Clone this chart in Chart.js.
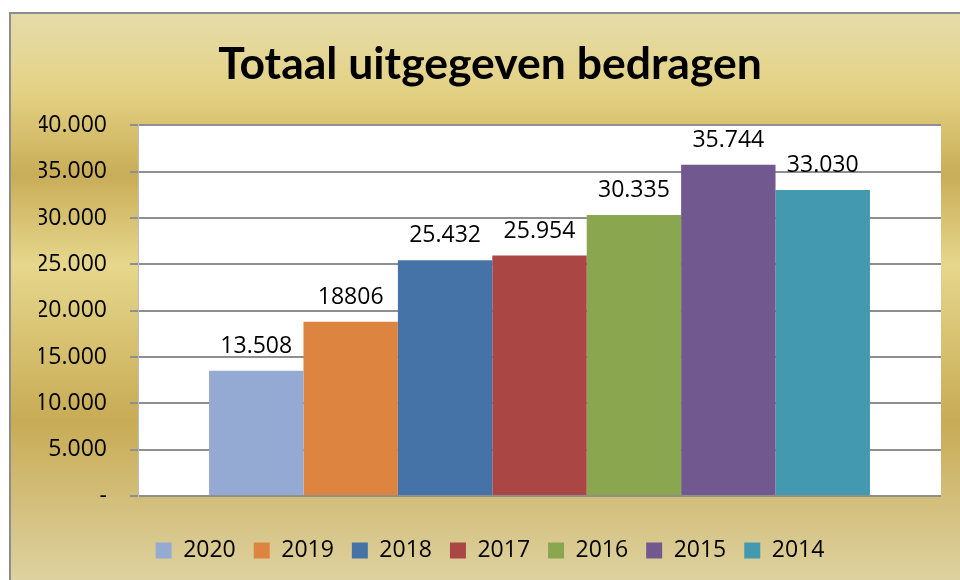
<!DOCTYPE html>
<html lang="nl">
<head>
  <meta charset="UTF-8" />
  <title>Totaal uitgegeven bedragen</title>
  <script src="https://cdn.jsdelivr.net/npm/chart.js"></script>
  <style>
    body { margin: 0; padding: 0; background: #ffffff; }
    #wrap { width: 960px; height: 580px; }
  </style>
</head>
<body>
<div id="wrap">
  <canvas id="chart" width="960" height="580"></canvas>
</div>

<script>
// data
const years = ['2020', '2019', '2018', '2017', '2016', '2015', '2014'];
const amounts = [13508, 18806, 25432, 25954, 30335, 35744, 33030];
const amountLabels = ['13.508', '18806', '25.432', '25.954', '30.335', '35.744', '33.030'];
const barColors = ['#95aad2', '#de8441', '#4573a7', '#aa4644', '#8aa64f', '#71588f', '#4299b0'];

const FONT = '"Open Sans", "Noto Sans", sans-serif';

// dutch thousands separator, "-" for zero
function fmt(v) {
  if (v === 0) return '-';
  return String(v).replace(/\B(?=(\d{3})+(?!\d))/g, '.');
}

// gold frame + white plot area
const backdrop = {
  id: 'backdrop',
  beforeDraw(chart) {
    const { ctx, chartArea } = chart;
    ctx.save();
    ctx.fillStyle = '#ffffff';
    ctx.fillRect(0, 0, chart.width, chart.height);
    const g = ctx.createLinearGradient(0, 13, 0, 580);
    g.addColorStop(0.00, '#e6dcaa');
    g.addColorStop(0.14, '#e3d183');
    g.addColorStop(0.285, '#c9ad58');
    g.addColorStop(0.445, '#e6d78c');
    g.addColorStop(0.72, '#c8ab55');
    g.addColorStop(1.00, '#ded2a0');
    ctx.fillStyle = g;
    ctx.fillRect(10, 13, chart.width, chart.height);
    ctx.strokeStyle = '#8c8c8c';
    ctx.lineWidth = 2;
    ctx.beginPath();
    ctx.moveTo(10, chart.height + 2);
    ctx.lineTo(10, 13);
    ctx.lineTo(chart.width + 2, 13);
    ctx.stroke();
    ctx.fillStyle = '#ffffff';
    ctx.fillRect(chartArea.left, chartArea.top, chartArea.right - chartArea.left, chartArea.bottom - chartArea.top);
    ctx.restore();
  }
};

// value labels above each bar
const valueLabels = {
  id: 'valueLabels',
  afterDatasetsDraw(chart) {
    const { ctx } = chart;
    ctx.save();
    ctx.font = '23px ' + FONT;
    ctx.fillStyle = '#000000';
    ctx.textAlign = 'center';
    ctx.textBaseline = 'alphabetic';
    chart.data.datasets.forEach((ds, i) => {
      const bar = chart.getDatasetMeta(i).data[0];
      ctx.fillText(amountLabels[i], bar.x, bar.y - 18);
    });
    ctx.restore();
  }
};

new Chart(document.getElementById('chart'), {
  type: 'bar',
  data: {
    labels: [''],
    datasets: years.map((y, i) => ({
      label: y,
      data: [amounts[i]],
      backgroundColor: barColors[i],
      borderWidth: 0,
      categoryPercentage: 0.823,
      barPercentage: 1.0
    }))
  },
  options: {
    responsive: false,
    animation: false,
    layout: { padding: { left: 39, right: 19, top: 0, bottom: 8 } },
    plugins: {
      title: {
        display: true,
        text: 'Totaal uitgegeven bedragen',
        color: '#000000',
        font: { family: 'Lato, "Open Sans", sans-serif', size: 44.5, weight: 'bold', lineHeight: 1.2 },
        padding: { top: 38, bottom: 34 }
      },
      legend: {
        position: 'bottom',
        labels: {
          boxWidth: 16,
          boxHeight: 16,
          padding: 18,
          color: '#000000',
          font: { family: FONT, size: 23 }
        }
      },
      tooltip: { enabled: false }
    },
    scales: {
      x: {
        display: true,
        ticks: { display: false },
        grid: { display: false },
        border: { display: false },
        afterFit(s) { s.height = 25; }
      },
      y: {
        min: 0,
        max: 40000,
        ticks: {
          stepSize: 5000,
          padding: 23,
          color: '#000000',
          font: { family: FONT, size: 23 },
          callback: v => fmt(v)
        },
        grid: { color: '#8f8f8f', lineWidth: 2, tickLength: 8, drawTicks: true },
        border: { display: true, color: '#bdbdbd', width: 1 },
        afterFit(s) { s.width = 99; }
      }
    }
  },
  plugins: [backdrop, valueLabels]
});
</script>
</body>
</html>
